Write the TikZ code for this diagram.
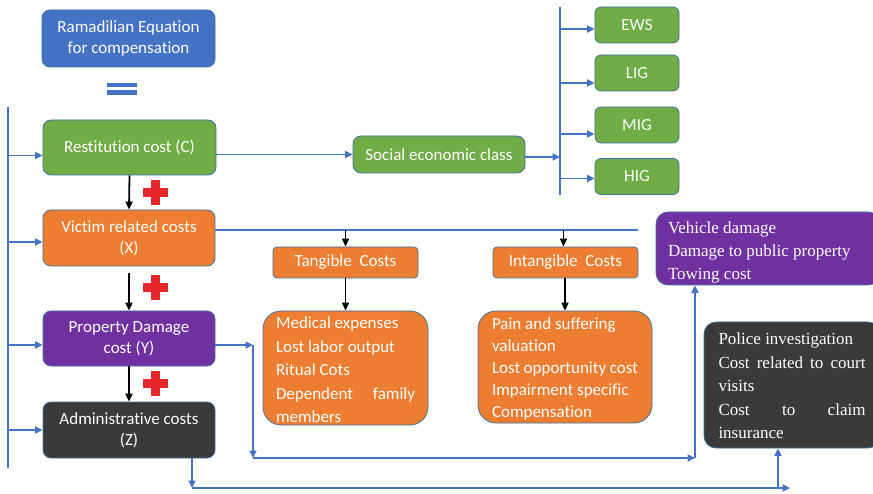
\documentclass[tikz,border=0pt]{standalone}
\usepackage{fontspec}
\setmainfont[Ligatures=NoCommon]{Carlito}
\newfontfamily\serifnote{Liberation Serif}
\usetikzlibrary{arrows.meta}

\definecolor{cblue}{HTML}{4472C4}
\definecolor{cgreen}{HTML}{70AD47}
\definecolor{corange}{HTML}{ED7D31}
\definecolor{cpurple}{HTML}{7030A0}
\definecolor{cdark}{HTML}{3A3A3A}
\definecolor{outl}{HTML}{41719C}
\definecolor{wire}{HTML}{4472C4}
\definecolor{plusred}{HTML}{E5262A}

\tikzset{
  box/.style={draw=outl, line width=0.8pt, rounded corners=8pt, text=white,
    font=\fontsize{17}{21}\selectfont, align=center, inner sep=0pt},
  classbox/.style={box, fill=cgreen, rounded corners=6pt,
    minimum width=84pt, minimum height=36pt},
  subbox/.style={box, fill=corange, rounded corners=4pt,
    minimum width=145pt, minimum height=31pt},
  listbox/.style={box, rounded corners=18pt, align=left},
  notebox/.style={box, rounded corners=12pt, align=left,
    font=\serifnote\fontsize{17}{23.5}\selectfont},
  wireline/.style={draw=wire, line width=1.9pt},
  wirearrow/.style={wireline, -{Triangle[length=7.5pt,width=7pt]}},
  addarrow/.style={draw=black, line width=1.8pt, -{Triangle[length=8pt,width=7pt]}},
  plus/.style={fill=plusred}
}

\newcommand{\plussign}[2]{%
  \fill[plus] (#1-12.5,#2-4.5) rectangle (#1+12.5,#2+4.5);
  \fill[plus] (#1-4.5,#2-12.5) rectangle (#1+4.5,#2+12.5);}

\begin{document}
\begin{tikzpicture}[x=1pt,y=-1pt]
\useasboundingbox (0,0) rectangle (873,494);
\clip (0,0) rectangle (873,494);

% equation head and the equals sign
\node[box, fill=cblue, minimum width=173pt, minimum height=57pt] (eq) at (128.5,38.5)
  {Ramadilian Equation\\for compensation};
\fill[cblue] (107,83) rectangle (137,87.5);
\fill[cblue] (107,90.5) rectangle (137,95);

% the four summed cost terms
\node[box, fill=cgreen, minimum width=173pt, minimum height=55pt] (rest) at (129.5,147.5)
  {Restitution cost (C)};
\node[box, fill=corange, minimum width=172pt, minimum height=56pt] (victim) at (129,238)
  {Victim related costs\\(X)};
\node[box, fill=cpurple, minimum width=172pt, minimum height=55pt] (prop) at (129,338.5)
  {Property Damage\\cost (Y)};
\node[box, fill=cdark, minimum width=172pt, minimum height=56pt] (admin) at (129,430)
  {Administrative costs\\(Z)};

% plus signs and summation arrows
\plussign{155}{193}
\plussign{155}{288}
\plussign{155}{383}
\draw[addarrow] (rest.south) -- (victim.north);
\draw[addarrow] ([yshift=-7pt]victim.south) -- (prop.north);
\draw[addarrow] (prop.south) -- (admin.north);

% left feed bus
\coordinate (busTop) at (8,107);
\coordinate (busBot) at (8,468);
\draw[wireline] (busTop) -- (busBot);
\draw[wirearrow] ([yshift=-8pt]busTop |- rest.west) -- ([yshift=-8pt]rest.west);
\draw[wirearrow] ([yshift=-4pt]busTop |- victim.west) -- ([yshift=-4pt]victim.west);
\draw[wirearrow] ([yshift=-6.5pt]busTop |- prop.west) -- ([yshift=-6.5pt]prop.west);
\draw[wirearrow] (busTop |- admin.west) -- (admin.west);

% socio-economic classes
\node[box, fill=cgreen, minimum width=172pt, minimum height=37pt] (social) at (439,154.5)
  {Social economic class};
\node[classbox] (ews) at (637,25) {EWS};
\node[classbox] (lig) at (637,73) {LIG};
\node[classbox] (mig) at (637,125) {MIG};
\node[classbox] (hig) at (637,176.5) {HIG};
\draw[wirearrow] (rest.east |- social.west) -- (social.west);
\coordinate (clsTop) at (560,7);
\coordinate (clsBot) at (560,195);
\draw[wireline] (clsTop) -- (clsBot);
\draw[wirearrow] ([yshift=-2.5pt]social.east) -- ([yshift=-2.5pt]clsTop |- social.east);
\draw[wirearrow] ([yshift=-4pt]clsTop |- ews.west) -- ([yshift=-4pt]ews.west);
\draw[wirearrow] ([yshift=-10pt]clsTop |- lig.west) -- ([yshift=-10pt]lig.west);
\draw[wirearrow] ([yshift=-9pt]clsTop |- mig.west) -- ([yshift=-9pt]mig.west);
\draw[wirearrow] ([yshift=-2pt]clsTop |- hig.west) -- ([yshift=-2pt]hig.west);

% victim related costs split
\node[subbox] (tang) at (345.5,262.5) {Tangible~ Costs};
\node[subbox] (intang) at (565.5,262.5) {Intangible~ Costs};
\coordinate (vEnd) at (638,230);
\draw[wireline] (victim.east |- vEnd) -- (vEnd);
\draw[addarrow, line width=1.5pt] (tang.north |- vEnd) -- (tang.north);
\draw[addarrow, line width=1.5pt] ([xshift=-2pt]intang.north |- vEnd) -- ([xshift=-2pt]intang.north);

\node[listbox, fill=corange, minimum width=165pt, minimum height=114pt] (medical) at (345.5,368)
  {\parbox{139pt}{\fontsize{17}{23.5}\selectfont\vspace*{4pt}%
   Medical expenses\\Lost labor output\\Ritual Cots\\Dependent family\linebreak members}};
\node[listbox, fill=corange, minimum width=174pt, minimum height=112pt] (pain) at (565,367)
  {\parbox{146pt}{\fontsize{17}{22}\selectfont\vspace*{4pt}%
   Pain and suffering\\valuation\\Lost opportunity cost\\Impairment specific\\Compensation}};
\draw[addarrow, line width=1.5pt] (tang.south) -- (medical.north |- tang.south) -- (medical.north);
\draw[addarrow, line width=1.5pt] ([xshift=-0.5pt]intang.south) -- ([xshift=-0.5pt]intang.south |- pain.north);

% property damage and administrative breakdowns
\node[notebox, fill=cpurple, minimum width=224pt, minimum height=73pt] (vehicle) at (768,248.5)
  {\parbox{200pt}{\fontsize{17}{23}\selectfont\vspace*{7pt}%
   Vehicle damage\\Damage to public property\\Towing cost}};
\node[notebox, fill=cdark, minimum width=176pt, minimum height=126pt] (police) at (792,385)
  {\parbox{147pt}{\fontsize{17}{23.5}\selectfont\vspace*{2pt}%
   Police investigation\\Cost related to court\linebreak visits\\Cost to claim\linebreak insurance}};

% route from property damage to its list
\coordinate (pA) at (253,345);
\coordinate (pB) at (253,458);
\coordinate (pC) at (695,458);
\draw[wirearrow] ([yshift=-6.5pt]prop.east) -- (pA);
\draw[wirearrow] (pA) -- (pB);
\draw[wirearrow] (pB) -- (pC);
\draw[wirearrow] (pC) -- (pC |- vehicle.south);

% route from administrative costs to its list
\coordinate (aA) at (192,488);
\coordinate (aB) at (790,488);
\coordinate (aC) at (778,488);
\draw[wirearrow] (aA |- admin.south) -- (aA);
\draw[wirearrow] (aA) -- (aB);
\draw[wirearrow] (aC) -- (aC |- police.south);
\end{tikzpicture}
\end{document}
